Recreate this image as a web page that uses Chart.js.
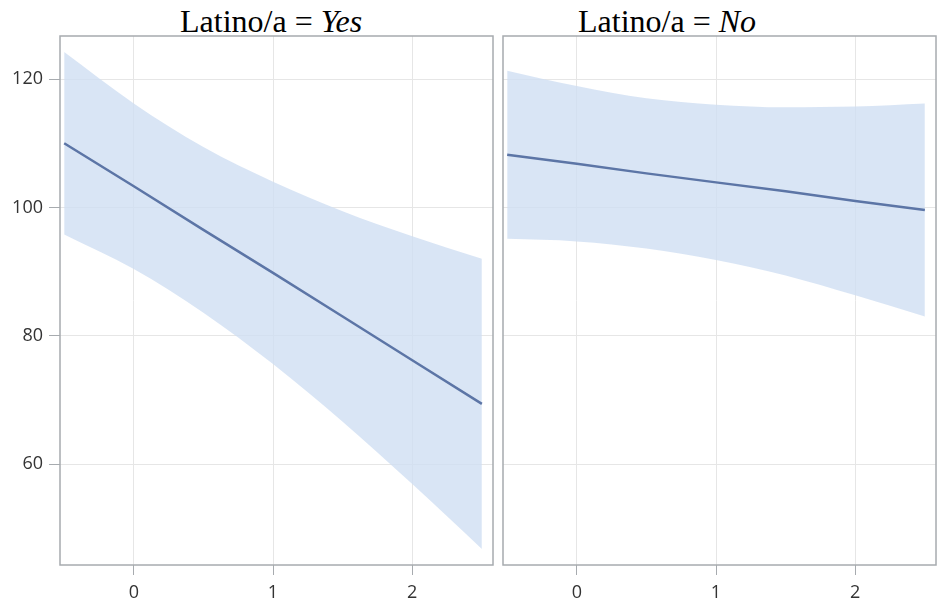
<html><head>
  <title>Latino/a panels</title>
  <script src="https://cdn.jsdelivr.net/npm/chart.js"></script>
  <style>
    body {
      margin: 0;
      background: #ffffff;
      width: 948px;
      height: 607px;
      position: relative;
      overflow: hidden;
    }
    .panel {
      position: absolute;
      top: 0;
      height: 607px;
    }
    .panel-title {
      position: absolute;
      top: 5px;
      font-family: 'Liberation Serif', 'Times New Roman', serif;
      font-size: 32px;
      line-height: 32px;
      color: #000;
      white-space: nowrap;
    }
  </style>
</head>
<body>
  <div class="panel-title" style="left:180px">Latino/a = <i>Yes</i></div>
  <div class="panel-title" style="left:578px">Latino/a = <i>No</i></div>

  <div class="panel" style="left:0;width:495px"><canvas id="yesChart" width="495" height="607"></canvas></div>
  <div class="panel" style="left:497px;width:451px"><canvas id="noChart" width="451" height="607"></canvas></div>

  <script>
    // x positions where the curves were read
    const xs = [-0.5, 0, 0.5, 1, 1.5, 2, 2.5];

    // Latino/a = Yes
    const yesFit = [110.0, 103.3, 96.5, 89.8, 83.0, 76.2, 69.4];
    const yesUpper = [124.2, 116.2, 109.4, 104.0, 99.4, 95.5, 92.0];
    const yesLower = [95.8, 90.4, 83.6, 75.6, 66.6, 56.9, 46.8];

    // Latino/a = No
    const noFit = [108.2, 106.8, 105.3, 103.9, 102.5, 101.0, 99.6];
    const noUpper = [121.3, 118.9, 117.0, 116.0, 115.6, 115.7, 116.2];
    const noLower = [95.1, 94.7, 93.6, 91.8, 89.4, 86.3, 83.0];

    const xTicks = [0, 1, 2];
    const yTicks = [60, 80, 100, 120];

    const lineColor = '#5c75a6';
    const bandColor = 'rgba(206, 222, 242, 0.78)';
    const gridColor = '#e6e6e6';
    const frameColor = '#a7abaf';

    const pts = ys => xs.map((x, i) => ({ x: x, y: ys[i] }));

    // draw the box round the plot area
    const framePlugin = {
      id: 'frame',
      afterDraw(chart) {
        const a = chart.chartArea;
        const ctx = chart.ctx;
        ctx.save();
        ctx.strokeStyle = frameColor;
        ctx.lineWidth = 1.5;
        ctx.strokeRect(a.left, a.top, a.right - a.left, a.bottom - a.top);
        ctx.restore();
      }
    };

    function makePanel(id, fit, upper, lower, showY, pad) {
      new Chart(document.getElementById(id), {
        type: 'line',
        data: {
          datasets: [
            {
              data: pts(fit),
              borderColor: lineColor,
              borderWidth: 2.5,
              pointRadius: 0,
              fill: false,
              tension: 0
            },
            {
              data: pts(upper),
              borderWidth: 0,
              borderColor: 'rgba(0,0,0,0)',
              backgroundColor: bandColor,
              pointRadius: 0,
              fill: '+1',
              cubicInterpolationMode: 'monotone'
            },
            {
              data: pts(lower),
              borderWidth: 0,
              borderColor: 'rgba(0,0,0,0)',
              pointRadius: 0,
              fill: false,
              cubicInterpolationMode: 'monotone'
            }
          ]
        },
        options: {
          responsive: false,
          animation: false,
          events: [],
          layout: { padding: pad },
          plugins: {
            legend: { display: false },
            tooltip: { enabled: false }
          },
          scales: {
            x: {
              type: 'linear',
              min: -0.53,
              max: 2.58,
              afterBuildTicks: s => { s.ticks = xTicks.map(v => ({ value: v })); },
              afterFit: s => { s.height = 42; },
              grid: { color: gridColor, tickColor: frameColor, tickLength: 10 },
              border: { display: false },
              ticks: {
                color: '#333',
                padding: 7,
                font: { family: 'Open Sans', size: 18 }
              }
            },
            y: {
              min: 44.3,
              max: 126.7,
              afterBuildTicks: s => { s.ticks = yTicks.map(v => ({ value: v })); },
              afterFit: s => { s.width = showY ? 60 : 0; },
              grid: { color: gridColor, tickColor: frameColor, tickLength: 11, drawTicks: showY },
              border: { display: false },
              ticks: {
                display: showY,
                color: '#333',
                padding: 6,
                font: { family: 'Open Sans', size: 18 }
              }
            }
          }
        },
        plugins: [framePlugin]
      });
    }

    makePanel('yesChart', yesFit, yesUpper, yesLower, true, { top: 36, right: 2, left: 0, bottom: 0 });
    makePanel('noChart', noFit, noUpper, noLower, false, { top: 36, right: 12, left: 6, bottom: 0 });
  </script>
</body></html>
